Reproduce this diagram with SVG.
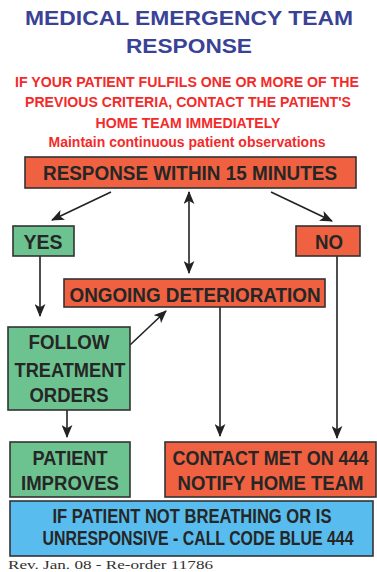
<svg xmlns="http://www.w3.org/2000/svg" width="377" height="572" viewBox="0 0 377 572">
<defs>
<style>
.t{font-family:"Liberation Sans",Arial,sans-serif;font-weight:bold;text-anchor:middle}
.title{fill:#3a4296;font-size:21px}
.red{fill:#f42a2a;font-size:14px}
.lbl{fill:#262626;font-size:21px}
.box{stroke:#333;stroke-width:1.6}
.or{fill:#ef6140}
.gr{fill:#6cc390}
.bl{fill:#58bdee}
.ln{stroke:#222;stroke-width:1.6;fill:none}
</style>
<marker id="ah" viewBox="0 0 12 10" refX="11" refY="5" markerWidth="13" markerHeight="11" markerUnits="userSpaceOnUse" orient="auto-start-reverse">
<path d="M0,0 L12,5 L0,10 L3,5 Z" fill="#222"/>
</marker>
</defs>
<rect width="377" height="572" fill="#fff"/>
<g id="header">
<text class="t title" x="189" y="25" textLength="328" lengthAdjust="spacingAndGlyphs">MEDICAL EMERGENCY TEAM</text>
<text class="t title" x="189" y="53" textLength="126" lengthAdjust="spacingAndGlyphs">RESPONSE</text>
<text class="t red" x="187" y="87" textLength="344" lengthAdjust="spacingAndGlyphs">IF YOUR PATIENT FULFILS ONE OR MORE OF THE</text>
<text class="t red" x="188" y="107" textLength="326" lengthAdjust="spacingAndGlyphs">PREVIOUS CRITERIA, CONTACT THE PATIENT'S</text>
<text class="t red" x="188" y="128" textLength="185" lengthAdjust="spacingAndGlyphs">HOME TEAM IMMEDIATELY</text>
<text class="t red" x="187" y="147" font-size="13" textLength="277" lengthAdjust="spacingAndGlyphs">Maintain continuous patient observations</text>
</g>
<g id="connectors">
<line class="ln" x1="111" y1="192" x2="52" y2="220" marker-end="url(#ah)"/>
<line class="ln" x1="271" y1="192" x2="332" y2="221" marker-end="url(#ah)"/>
<line class="ln" x1="189" y1="192" x2="189" y2="273" marker-start="url(#ah)" marker-end="url(#ah)"/>
<line class="ln" x1="40" y1="256" x2="40" y2="316" marker-end="url(#ah)"/>
<line class="ln" x1="337" y1="256" x2="337" y2="438" marker-end="url(#ah)"/>
<line class="ln" x1="220" y1="307" x2="220" y2="436" marker-end="url(#ah)"/>
<line class="ln" x1="130" y1="345" x2="166" y2="311" marker-end="url(#ah)"/>
<line class="ln" x1="67" y1="410" x2="67" y2="437" marker-end="url(#ah)"/>
</g>
<g id="response">
<rect class="box or" x="25" y="157" width="331" height="31"/>
<text class="t lbl" x="190" y="180" textLength="294" lengthAdjust="spacingAndGlyphs">RESPONSE WITHIN 15 MINUTES</text>
</g>
<g id="yes">
<rect class="box gr" x="13" y="226" width="61" height="30"/>
<text class="t lbl" x="43" y="249" textLength="39" lengthAdjust="spacingAndGlyphs">YES</text>
</g>
<g id="no">
<rect class="box or" x="296" y="226" width="64" height="30"/>
<text class="t lbl" x="329" y="249" textLength="28" lengthAdjust="spacingAndGlyphs">NO</text>
</g>
<g id="ongoing">
<rect class="box or" x="64" y="279" width="261" height="28"/>
<text class="t lbl" x="195" y="302" textLength="251" lengthAdjust="spacingAndGlyphs">ONGOING DETERIORATION</text>
</g>
<g id="follow">
<rect class="box gr" x="8" y="327" width="122" height="83"/>
<text class="t lbl" x="69" y="349" textLength="81" lengthAdjust="spacingAndGlyphs">FOLLOW</text>
<text class="t lbl" x="70" y="377" textLength="111" lengthAdjust="spacingAndGlyphs">TREATMENT</text>
<text class="t lbl" x="69" y="402" textLength="79" lengthAdjust="spacingAndGlyphs">ORDERS</text>
</g>
<g id="improves">
<rect class="box gr" x="10" y="442" width="120" height="55"/>
<text class="t lbl" x="70" y="465" textLength="75" lengthAdjust="spacingAndGlyphs">PATIENT</text>
<text class="t lbl" x="70" y="490" textLength="98" lengthAdjust="spacingAndGlyphs">IMPROVES</text>
</g>
<g id="contact">
<rect class="box or" x="165" y="442" width="211" height="55"/>
<text class="t lbl" x="270.5" y="465" font-size="18" textLength="196" lengthAdjust="spacingAndGlyphs">CONTACT MET ON 444</text>
<text class="t lbl" x="270.5" y="490" font-size="18" textLength="186" lengthAdjust="spacingAndGlyphs">NOTIFY HOME TEAM</text>
</g>
<g id="codeblue">
<rect class="box bl" x="10" y="501" width="363" height="55"/>
<text class="t lbl" x="192" y="523" font-size="19" textLength="279" lengthAdjust="spacingAndGlyphs">IF PATIENT NOT BREATHING OR IS</text>
<text class="t lbl" x="198" y="545" font-size="19" textLength="311" lengthAdjust="spacingAndGlyphs">UNRESPONSIVE - CALL CODE BLUE 444</text>
</g>
<text x="8" y="569" font-family="'Liberation Serif','Times New Roman',serif" font-size="12" fill="#333" textLength="205" lengthAdjust="spacingAndGlyphs">Rev. Jan. 08 - Re-order 11786</text>
</svg>
